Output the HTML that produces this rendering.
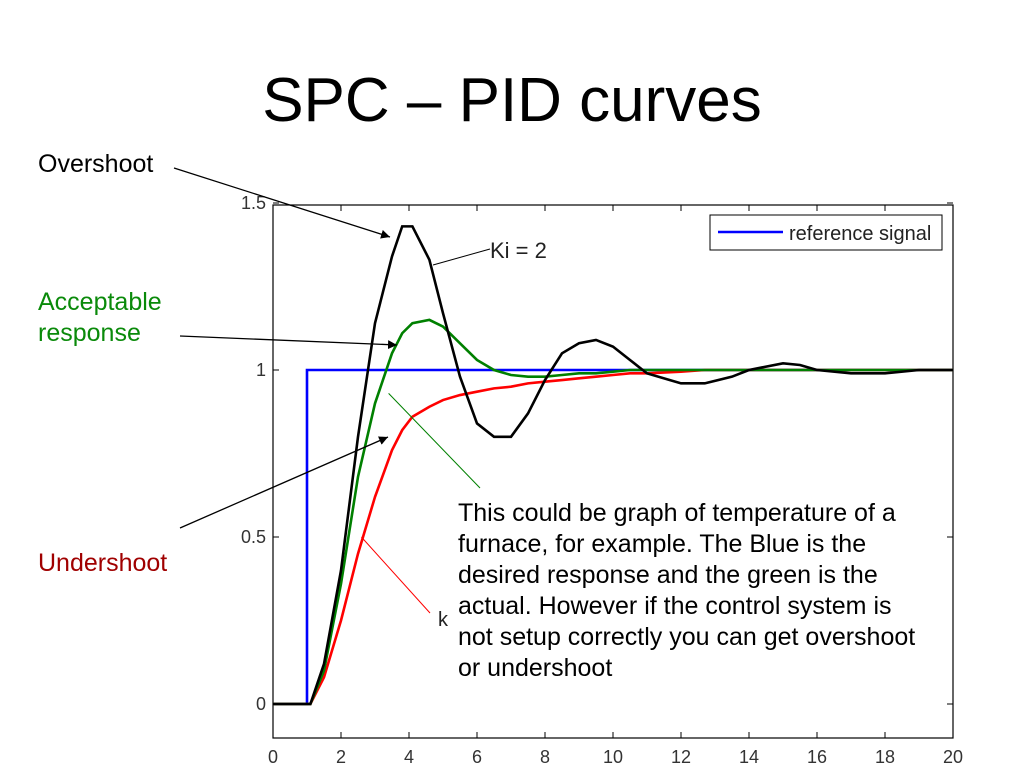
<!DOCTYPE html>
<html><head><meta charset="utf-8"><style>
body{margin:0;background:#fff;width:1024px;height:768px;overflow:hidden;font-family:"Liberation Sans",sans-serif}
svg{position:absolute;left:0;top:0}
</style></head><body>
<svg width="1024" height="768" id="c">
<defs><marker id="ah" viewBox="0 0 10 10" refX="10" refY="5" markerWidth="9" markerHeight="9" markerUnits="userSpaceOnUse" orient="auto"><path d="M0,0L10,5L0,10z" fill="#000"/></marker></defs>
<text x="512" y="121" font-size="62" text-anchor="middle">SPC – PID curves</text>
<g id="plot"></g>
<text x="38" y="172" font-size="25">Overshoot</text>
<text x="38" y="310" font-size="25" fill="#0a8a0a">Acceptable</text>
<text x="38" y="341" font-size="25" fill="#0a8a0a">response</text>
<text x="38" y="571" font-size="25" fill="#a00000">Undershoot</text>
<g stroke="#000" stroke-width="1.3">
<line x1="174" y1="168" x2="390" y2="237" marker-end="url(#ah)"/>
<line x1="180" y1="336" x2="397" y2="345" marker-end="url(#ah)"/>
<line x1="180" y1="528" x2="388" y2="437" marker-end="url(#ah)"/>
</g>
<g font-size="25">
<text x="458" y="521">This could be graph of temperature of a</text>
<text x="458" y="552">furnace, for example. The Blue is the</text>
<text x="458" y="583">desired response and the green is the</text>
<text x="458" y="614">actual. However if the control system is</text>
<text x="458" y="645">not setup correctly you can get overshoot</text>
<text x="458" y="676">or undershoot</text>
</g>
</svg>
<script>
const xs=[0,1,1.1,1.5,2,2.5,3,3.5,3.8,4.1,4.6,5,5.5,6,6.5,7,7.5,8,8.5,9,9.5,10,10.5,11,12,12.7,13.5,14,15,15.5,16,17,18,19,20];
const ki2=[0,0,0,0.12,0.4,0.8,1.14,1.34,1.43,1.43,1.33,1.17,0.98,0.84,0.8,0.8,0.87,0.97,1.05,1.08,1.09,1.07,1.03,0.99,0.96,0.96,0.98,1.0,1.02,1.015,1.0,0.99,0.99,1.0,1.0];
const good=[0,0,0,0.1,0.36,0.68,0.9,1.05,1.11,1.14,1.15,1.13,1.08,1.03,1.0,0.985,0.98,0.98,0.985,0.99,0.99,0.995,1,1,1,1,1,1,1,1,1,1,1,1,1];
const slow=[0,0,0,0.08,0.25,0.45,0.62,0.76,0.82,0.86,0.89,0.91,0.925,0.935,0.945,0.95,0.96,0.965,0.97,0.975,0.98,0.985,0.99,0.99,0.995,1,1,1,1,1,1,1,1,1,1];
const xTicks=[0,2,4,6,8,10,12,14,16,18,20];
const yTicks=[0,0.5,1,1.5];
const X=v=>273+v*34, Y=v=>704-v*334;
const NS="http://www.w3.org/2000/svg", g=document.getElementById('plot');
function mk(t,a,p){const e=document.createElementNS(NS,t);for(const k in a)e.setAttribute(k,a[k]);(p||g).appendChild(e);return e;}
const frame=mk('rect',{x:273,y:205,width:680,height:533,fill:'none',stroke:'#000','stroke-width':1.2});


xTicks.forEach(t=>{mk('line',{x1:X(t),x2:X(t),y1:738,y2:732,stroke:'#000'});mk('line',{x1:X(t),x2:X(t),y1:205,y2:211,stroke:'#000'});
const l=mk('text',{x:X(t),y:763,'font-size':18,'text-anchor':'middle',fill:'#333'});l.textContent=t;

});
yTicks.forEach(t=>{mk('line',{x1:273,x2:279,y1:Y(t),y2:Y(t),stroke:'#000'});mk('line',{x1:953,x2:947,y1:Y(t),y2:Y(t),stroke:'#000'});
const l=mk('text',{x:266,y:Y(t)+6,'font-size':18,'text-anchor':'end',fill:'#333'});l.textContent=t;

});
function line(ys,col,name){const d=xs.map((x,i)=>(i?'L':'M')+X(x)+','+Y(ys[i])).join('');const p=mk('path',{d:d,fill:'none',stroke:col,'stroke-width':2.6});

}
const ref=mk('path',{d:`M${X(0)},${Y(0)}L${X(1)},${Y(0)}L${X(1)},${Y(1)}L${X(20)},${Y(1)}`,fill:'none',stroke:'#0000ff','stroke-width':2.6});


line(slow,'#ff0000','undershoot-line');
line(good,'#008000','acceptable-line');
line(ki2,'#000','ki2-line');
mk('line',{x1:X(3.4),y1:Y(0.93),x2:480,y2:488,stroke:'#008000','stroke-width':1});
mk('line',{x1:X(2.6),y1:Y(0.5),x2:430,y2:613,stroke:'#ff0000','stroke-width':1});
mk('line',{x1:433,y1:265,x2:490,y2:249,stroke:'#000','stroke-width':1});
const k=mk('text',{x:490,y:258,'font-size':22,fill:'#222'});k.textContent='Ki = 2';


const k2=mk('text',{x:438,y:626,'font-size':20,fill:'#222'});k2.textContent='k';
const lg=mk('rect',{x:710,y:215,width:232,height:35,fill:'#fff',stroke:'#000'});


mk('line',{x1:718,x2:783,y1:232,y2:232,stroke:'#0000ff','stroke-width':2.6});
const lt=mk('text',{x:789,y:240,'font-size':20,fill:'#222'});lt.textContent='reference signal';


</script>
</body></html>
